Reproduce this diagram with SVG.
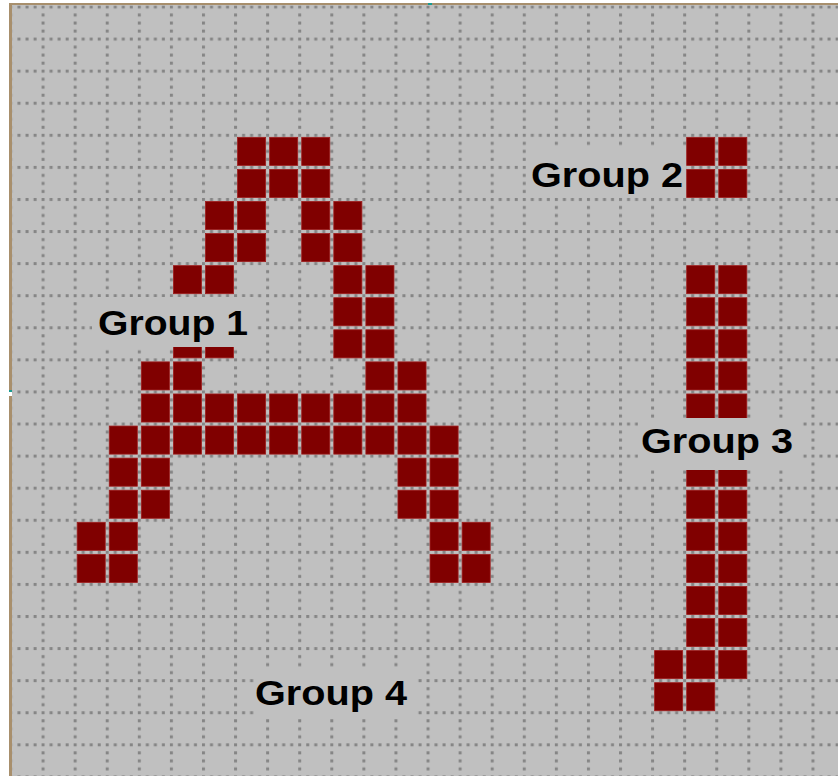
<svg xmlns="http://www.w3.org/2000/svg" xmlns:xlink="http://www.w3.org/1999/xlink" width="838" height="776" viewBox="0 0 838 776">
<style>
.page{fill:#ffffff}
.bg{fill:#c0c0c0}
.dot{fill:#858585}
.cell{fill:#800000;stroke:#9e1c1c;stroke-width:0.8}
.lblbox{fill:#c0c0c0}
.lbl{font-family:"Liberation Sans",Arial,Helvetica,sans-serif;font-weight:bold;font-size:35px;fill:#000000}
.border{fill:#a88f6c}
</style>
<defs>
<pattern id="grid" patternUnits="userSpaceOnUse" x="-1.5" y="-1.5" width="32" height="32">
<rect class="dot" x="0" y="0" width="3" height="3"/>
<rect class="dot" x="8" y="0" width="3" height="3"/>
<rect class="dot" x="16" y="0" width="3" height="3"/>
<rect class="dot" x="24" y="0" width="3" height="3"/>
<rect class="dot" x="0" y="8" width="3" height="3"/>
<rect class="dot" x="0" y="16" width="3" height="3"/>
<rect class="dot" x="0" y="24" width="3" height="3"/>
</pattern>
<rect id="c" class="cell" width="28" height="28"/>
</defs>
<rect class="page" x="0" y="0" width="838" height="776"/>
<rect class="bg" x="12" y="5" width="826" height="771"/>
<g id="board" transform="translate(11,7) scale(1.0025)">
<rect id="grid-dots" x="1.6" y="-1.5" width="826" height="772" fill="url(#grid)"/>
<g id="letter-a">
<use href="#c" x="226" y="130"/><use href="#c" x="258" y="130"/><use href="#c" x="290" y="130"/>
<use href="#c" x="226" y="162"/><use href="#c" x="258" y="162"/><use href="#c" x="290" y="162"/>
<use href="#c" x="194" y="194"/><use href="#c" x="226" y="194"/><use href="#c" x="290" y="194"/><use href="#c" x="322" y="194"/>
<use href="#c" x="194" y="226"/><use href="#c" x="226" y="226"/><use href="#c" x="290" y="226"/><use href="#c" x="322" y="226"/>
<use href="#c" x="162" y="258"/><use href="#c" x="194" y="258"/><use href="#c" x="322" y="258"/><use href="#c" x="354" y="258"/>
<use href="#c" x="322" y="290"/><use href="#c" x="354" y="290"/>
<use href="#c" x="162" y="322"/><use href="#c" x="194" y="322"/><use href="#c" x="322" y="322"/><use href="#c" x="354" y="322"/>
<use href="#c" x="130" y="354"/><use href="#c" x="162" y="354"/><use href="#c" x="354" y="354"/><use href="#c" x="386" y="354"/>
<use href="#c" x="130" y="386"/><use href="#c" x="162" y="386"/><use href="#c" x="194" y="386"/><use href="#c" x="226" y="386"/><use href="#c" x="258" y="386"/><use href="#c" x="290" y="386"/><use href="#c" x="322" y="386"/><use href="#c" x="354" y="386"/><use href="#c" x="386" y="386"/>
<use href="#c" x="98" y="418"/><use href="#c" x="130" y="418"/><use href="#c" x="162" y="418"/><use href="#c" x="194" y="418"/><use href="#c" x="226" y="418"/><use href="#c" x="258" y="418"/><use href="#c" x="290" y="418"/><use href="#c" x="322" y="418"/><use href="#c" x="354" y="418"/><use href="#c" x="386" y="418"/><use href="#c" x="418" y="418"/>
<use href="#c" x="98" y="450"/><use href="#c" x="130" y="450"/><use href="#c" x="386" y="450"/><use href="#c" x="418" y="450"/>
<use href="#c" x="98" y="482"/><use href="#c" x="130" y="482"/><use href="#c" x="386" y="482"/><use href="#c" x="418" y="482"/>
<use href="#c" x="66" y="514"/><use href="#c" x="98" y="514"/><use href="#c" x="418" y="514"/><use href="#c" x="450" y="514"/>
<use href="#c" x="66" y="546"/><use href="#c" x="98" y="546"/><use href="#c" x="418" y="546"/><use href="#c" x="450" y="546"/>
</g>
<g id="letter-i-dot">
<use href="#c" x="674" y="130"/><use href="#c" x="706" y="130"/>
<use href="#c" x="674" y="162"/><use href="#c" x="706" y="162"/>
</g>
<g id="letter-i-stem">
<use href="#c" x="674" y="258"/><use href="#c" x="706" y="258"/>
<use href="#c" x="674" y="290"/><use href="#c" x="706" y="290"/>
<use href="#c" x="674" y="322"/><use href="#c" x="706" y="322"/>
<use href="#c" x="674" y="354"/><use href="#c" x="706" y="354"/>
<use href="#c" x="674" y="386"/><use href="#c" x="706" y="386"/>
<use href="#c" x="674" y="450"/><use href="#c" x="706" y="450"/>
<use href="#c" x="674" y="482"/><use href="#c" x="706" y="482"/>
<use href="#c" x="674" y="514"/><use href="#c" x="706" y="514"/>
<use href="#c" x="674" y="546"/><use href="#c" x="706" y="546"/>
<use href="#c" x="674" y="578"/><use href="#c" x="706" y="578"/>
<use href="#c" x="674" y="610"/><use href="#c" x="706" y="610"/>
<use href="#c" x="642" y="642"/><use href="#c" x="674" y="642"/><use href="#c" x="706" y="642"/>
<use href="#c" x="642" y="674"/><use href="#c" x="674" y="674"/>
</g>
</g>
<g id="group-1">
<rect class="lblbox" x="92" y="297" width="162" height="50"/>
<text class="lbl" x="98" y="335" textLength="150" lengthAdjust="spacingAndGlyphs">Group 1</text>
</g>
<g id="group-2">
<rect class="lblbox" x="526" y="146" width="160" height="49"/>
<text class="lbl" x="531" y="187" textLength="152" lengthAdjust="spacingAndGlyphs">Group 2</text>
</g>
<g id="group-3">
<rect class="lblbox" x="638" y="418" width="162" height="52"/>
<text class="lbl" x="641" y="453" textLength="152" lengthAdjust="spacingAndGlyphs">Group 3</text>
</g>
<g id="group-4">
<rect class="lblbox" x="254" y="667" width="162" height="50"/>
<text class="lbl" x="255" y="705" textLength="152" lengthAdjust="spacingAndGlyphs">Group 4</text>
</g>
<g id="frame">
<rect class="border" x="9" y="3" width="829" height="2"/>
<rect class="border" x="9" y="3" width="3" height="773"/>
<rect x="428" y="3" width="4" height="2" fill="#1a9a90"/>
<rect x="9" y="390" width="3" height="2" fill="#1a9a90"/>
<rect x="9" y="392" width="3" height="4" fill="#ffffff"/>
</g>
</svg>
